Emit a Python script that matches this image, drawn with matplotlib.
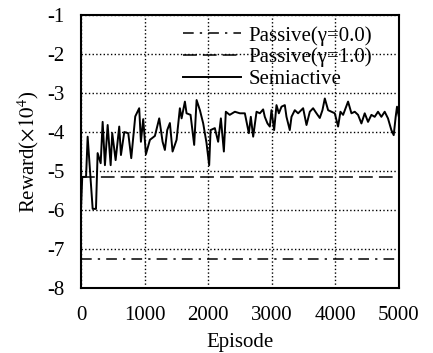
import matplotlib
matplotlib.use('Agg')
import matplotlib.pyplot as plt

plt.rcParams['font.family'] = 'Liberation Serif'
plt.rcParams['mathtext.fontset'] = 'stix'
plt.rcParams['font.size'] = 15
plt.rcParams['axes.unicode_minus'] = False

# Semiactive reward curve (x10^4)
episodes = [0, 20, 80, 105, 184, 236, 262, 310, 341, 377, 420, 467, 492, 545,
            602, 629, 681, 744, 791, 854, 916, 943, 979, 1022, 1085, 1163,
            1231, 1284, 1320, 1357, 1399, 1441, 1504, 1556, 1583, 1635, 1661,
            1724, 1781, 1819, 1871, 1923, 1975, 2017, 2039, 2106, 2158, 2201,
            2248, 2279, 2340, 2421, 2500, 2578, 2641, 2672, 2709, 2762, 2814,
            2866, 2892, 2934, 2971, 2997, 3039, 3076, 3113, 3155, 3207, 3233,
            3285, 3312, 3364, 3416, 3495, 3548, 3600, 3652, 3705, 3757, 3799,
            3836, 3888, 3941, 3993, 4045, 4082, 4124, 4202, 4255, 4307, 4359,
            4412, 4464, 4516, 4569, 4621, 4673, 4726, 4778, 4830, 4883, 4920,
            4951, 4972, 5000]
semiactive = [-6.0, -5.15, -5.15, -4.12, -5.97, -5.97, -4.54, -4.8, -3.74, -4.85,
              -3.82, -4.85, -4.03, -4.72, -3.86, -4.59, -4.0, -4.03, -4.67, -3.6,
              -3.39, -4.25, -3.67, -4.57, -4.2, -4.1, -3.65, -4.25, -4.46, -3.95,
              -3.77, -4.5, -4.2, -3.39, -3.65, -3.22, -3.52, -3.56, -4.33, -3.18,
              -3.44, -3.78, -4.28, -4.85, -3.95, -3.9, -4.25, -3.65, -4.5, -3.48,
              -3.56, -3.48, -3.52, -3.52, -4.03, -3.61, -4.12, -3.48, -3.52,
              -3.42, -3.61, -3.78, -3.86, -3.44, -3.95, -3.31, -3.52, -3.35,
              -3.31, -3.61, -3.95, -3.61, -3.44, -3.52, -3.39, -3.82, -3.48,
              -3.39, -3.52, -3.64, -3.44, -3.14, -3.44, -3.48, -3.52, -3.86,
              -3.48, -3.56, -3.22, -3.52, -3.48, -3.56, -3.78, -3.52, -3.74,
              -3.56, -3.61, -3.48, -3.61, -3.48, -3.65, -3.95, -4.08, -3.61,
              -3.35, -3.6]

# Passive baselines (constant)
passive_x = [0, 5000]
passive_g0 = [-7.25, -7.25]
passive_g1 = [-5.16, -5.16]

fig = plt.figure(figsize=(4.33, 3.53), dpi=100)
ax = fig.add_axes([0.187, 0.184, 0.734, 0.7735])

ax.plot(passive_x, passive_g0, color='black', linewidth=1.1,
        linestyle=(0, (7, 4, 1.5, 4)), label='Passive(γ=0.0)')
ax.plot(passive_x, passive_g1, color='black', linewidth=1.1,
        linestyle=(0, (9, 4)), label='Passive(γ=1.0)')
ax.plot(episodes, semiactive, color='black', linewidth=1.4, label='Semiactive')

ax.set_xlim(0, 5000)
ax.set_ylim(-8, -1)
ax.set_xticks([0, 1000, 2000, 3000, 4000, 5000])
ax.set_yticks([-8, -7, -6, -5, -4, -3, -2, -1])
ax.grid(True, color='black', linestyle=':', linewidth=1.0)
ax.tick_params(axis='y', length=0, pad=12)
ax.tick_params(axis='x', length=0, pad=13)
for s in ax.spines.values():
    s.set_linewidth(1.5)

ax.set_xlabel('Episode', labelpad=6)
ax.set_ylabel('Reward($\\times10^4$)', labelpad=4)

ax.legend(loc='upper right', frameon=False, handlelength=2.8,
          borderaxespad=0, borderpad=0, labelspacing=0.1, handletextpad=0.35,
          bbox_to_anchor=(0.915, 0.96))

fig.savefig('out.png', dpi=100)
